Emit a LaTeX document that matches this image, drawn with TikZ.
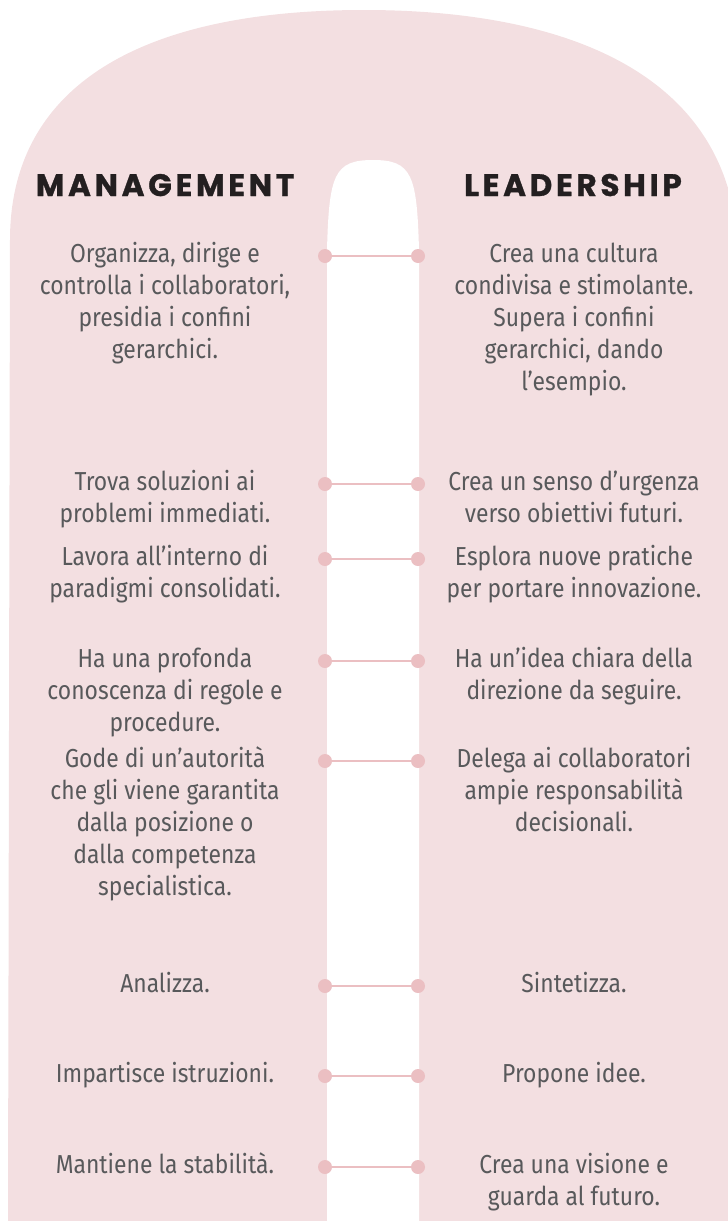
\documentclass[tikz,border=0pt]{standalone}
\usepackage{fontspec}
\setmainfont{Fira Sans}[FakeStretch=0.88]
\newfontfamily\headfont{Poppins}[LetterSpace=12, BoldFeatures={FakeBold=1}]
\definecolor{pinkbg}{HTML}{F3DFE1}
\definecolor{dotpink}{HTML}{EBBFC2}
\definecolor{textgray}{HTML}{58595B}
\definecolor{headblack}{HTML}{231F20}
\begin{document}
\begin{tikzpicture}[x=1pt,y=-1pt,
  txt/.style={anchor=north, align=center, inner sep=0pt, text=textgray, font=\fontsize{26}{32}\selectfont},
  head/.style={anchor=base, inner sep=0pt, text=headblack, font=\headfont\bfseries\fontsize{31}{32}\selectfont},
  cdot/.style={circle, fill=dotpink, minimum size=14pt, inner sep=0pt},
  link/.style={draw=dotpink, line width=2.5pt}]
\useasboundingbox (0,0) rectangle (728,1221);
\clip (0,0) rectangle (728,1221);
% background shape
\fill[pinkbg] (8,1221) -- (10,240) .. controls (10,90) and (134,10) .. (364,10)
  .. controls (585,10) and (738,85) .. (738,260) -- (738,1221) -- cycle;
\fill[white] (327,1222) -- (327,250) .. controls (329,175) and (334,160) .. (373,160)
  .. controls (412,160) and (417,175) .. (419,250) -- (419,1222) -- cycle;
% headers
\node[head] (hm) at (165,196) {MANAGEMENT};
\node[head] (hl) at (573,196) {LEADERSHIP};
% rows
\node[txt] (l1) at (165,237) {\rule{0pt}{25pt}Organizza, dirige e\\controlla i collaboratori,\\presidia i confini\\gerarchici.};
\node[txt] (r1) at (574,237) {\rule{0pt}{25pt}Crea una cultura\\condivisa e stimolante.\\Supera i confini\\gerarchici, dando\\l’esempio.};
\node[txt] (l2) at (165,465) {\rule{0pt}{25pt}Trova soluzioni ai\\problemi immediati.};
\node[txt] (r2) at (574,465) {\rule{0pt}{25pt}Crea un senso d’urgenza\\verso obiettivi futuri.};
\node[txt] (l3) at (165,540) {\rule{0pt}{25pt}Lavora all’interno di\\paradigmi consolidati.};
\node[txt] (r3) at (574,540) {\rule{0pt}{25pt}Esplora nuove pratiche\\per portare innovazione.};
\node[txt] (l4) at (165,642) {\rule{0pt}{25pt}Ha una profonda\\conoscenza di regole e\\procedure.};
\node[txt] (r4) at (574,642) {\rule{0pt}{25pt}Ha un’idea chiara della\\direzione da seguire.};
\node[txt] (l5) at (165,742) {\rule{0pt}{25pt}Gode di un’autorità\\che gli viene garantita\\dalla posizione o\\dalla competenza\\specialistica.};
\node[txt] (r5) at (574,742) {\rule{0pt}{25pt}Delega ai collaboratori\\ampie responsabilità\\decisionali.};
\node[txt] (l6) at (165,967) {\rule{0pt}{25pt}Analizza.};
\node[txt] (r6) at (574,967) {\rule{0pt}{25pt}Sintetizza.};
\node[txt] (l7) at (165,1057) {\rule{0pt}{25pt}Impartisce istruzioni.};
\node[txt] (r7) at (574,1057) {\rule{0pt}{25pt}Propone idee.};
\node[txt] (l8) at (165,1148) {\rule{0pt}{25pt}Mantiene la stabilità.};
\node[txt] (r8) at (574,1148) {\rule{0pt}{25pt}Crea una visione e\\guarda al futuro.};
% connectors
\foreach \i/\y in {1/256,2/484,3/559,4/661,5/761,6/986,7/1076,8/1167}{
  \node[cdot] (a\i) at (325,\y) {};
  \node[cdot] (b\i) at (418,\y) {};
  \draw[link] (a\i) -- (b\i);
}
\end{tikzpicture}
\end{document}
